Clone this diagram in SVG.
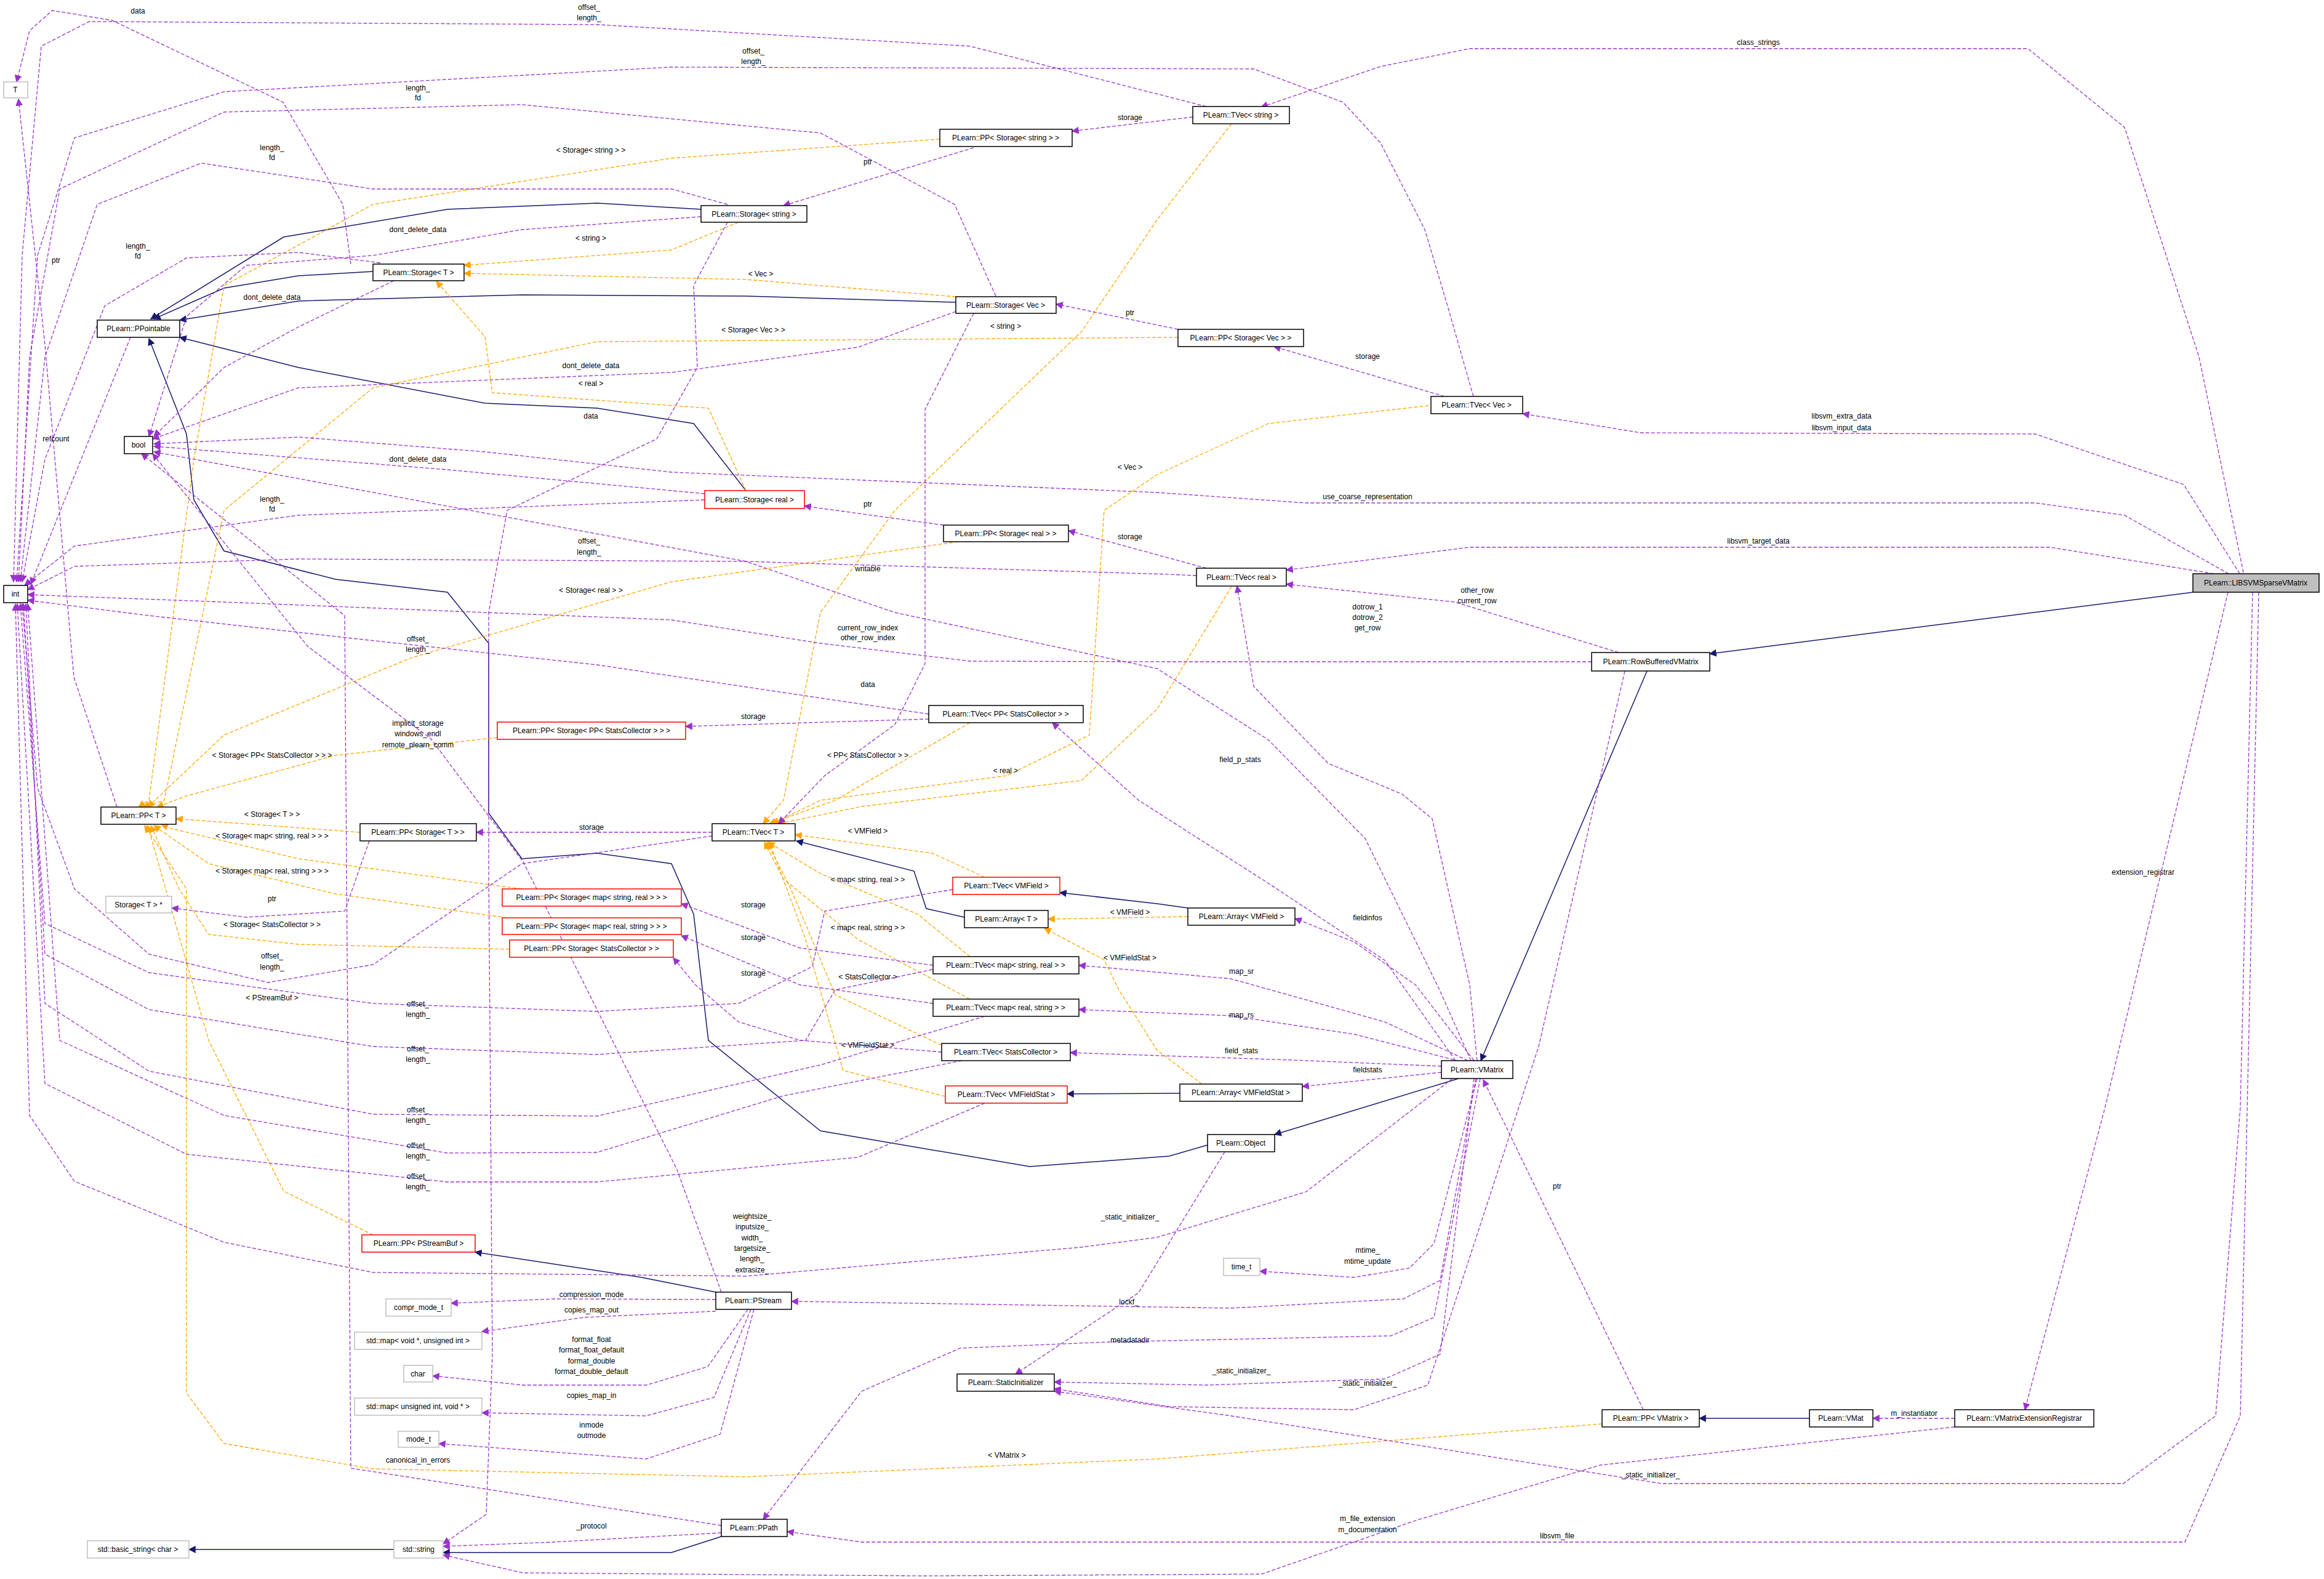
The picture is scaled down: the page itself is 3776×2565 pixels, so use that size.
<svg xmlns="http://www.w3.org/2000/svg" width="3776" height="2565" viewBox="0 0 3776 2565">
<style>
text{font-family:"Liberation Sans",Arial,sans-serif;font-size:12px;fill:#000}
.nt{text-anchor:middle}
.lb{text-anchor:middle}
rect{fill:#fff;stroke:#000;stroke-width:1.5}
.r rect{stroke:#ff0000}
.g rect{stroke:#bfbfbf}
.u{fill:none;stroke:#9a32cd;stroke-width:1.3;stroke-dasharray:6,3;marker-end:url(#mu)}
.t{fill:none;stroke:#ffa500;stroke-width:1.3;stroke-dasharray:6,3;marker-end:url(#mt)}
.i{fill:none;stroke:#191970;stroke-width:1.5;marker-end:url(#mi)}
</style>
<defs>
<marker id="mu" viewBox="0 0 10 10" refX="9" refY="5" markerWidth="12" markerHeight="12" markerUnits="userSpaceOnUse" orient="auto"><path d="M0,0L10,5L0,10z" fill="#9a32cd"/></marker>
<marker id="mt" viewBox="0 0 10 10" refX="9" refY="5" markerWidth="12" markerHeight="12" markerUnits="userSpaceOnUse" orient="auto"><path d="M0,0L10,5L0,10z" fill="#ffa500"/></marker>
<marker id="mi" viewBox="0 0 10 10" refX="9" refY="5" markerWidth="12" markerHeight="12" markerUnits="userSpaceOnUse" orient="auto"><path d="M0,0L10,5L0,10z" fill="#191970"/></marker>
</defs>
<rect x="0" y="0" width="3776" height="2565" style="fill:#fff;stroke:none"/>
<g id="edges">
<path class="i" d="M1139,340 L970,330 L727,340 L461,385 L245,518"/>
<path class="i" d="M606,441 L485,448 L364,468 L250,518"/>
<path class="i" d="M1553,491 L1212,481 L848,479 L485,489 L292,520"/>
<path class="i" d="M1212,797 L1127,688 L970,663 L788,655 L485,597 L292,548"/>
<path class="i" d="M1962,1860 L1900,1878 L1673,1895 L1333,1837 L1151,1690 L1127,1485 L1091,1403 L970,1386 L848,1395 L794,1321 L794,1045 L727,962 L545,941 L364,895 L315,812 L303,705 L242,550"/>
<path class="i" d="M1930,1475 L1880,1468 L1722,1450"/>
<path class="i" d="M1567,1490 L1505,1476 L1485,1415 L1294,1366"/>
<path class="i" d="M1917,1776 L1734,1777"/>
<path class="i" d="M2370,1752 L2071,1843"/>
<path class="i" d="M2676,1090 L2406,1723"/>
<path class="i" d="M3563,962 L2778,1062"/>
<path class="i" d="M1163,2099 L1042,2075 L772,2034"/>
<path class="i" d="M1172,2496 L1091,2522 L720,2522"/>
<path class="i" d="M640,2517 L307,2517"/>
<path class="i" d="M2940,2304 L2761,2304"/>
<path class="t" d="M1527,226 L1091,257 L606,332 L364,464 L315,746 L242,1300 L225,1311"/>
<path class="t" d="M1200,361 L1091,406 L754,431"/>
<path class="t" d="M1553,482 L1212,454 L754,444"/>
<path class="t" d="M1212,797 L1151,663 L800,638 L788,547 L709,457"/>
<path class="t" d="M1914,548 L970,555 L606,630 L364,829 L267,1300 L232,1311"/>
<path class="t" d="M1557,880 L1091,945 L667,1069 L364,1194 L240,1311"/>
<path class="t" d="M808,1198 L545,1227 L303,1293 L255,1311"/>
<path class="t" d="M585,1352 L286,1330"/>
<path class="t" d="M848,1444 L485,1395 L279,1346 L262,1339"/>
<path class="t" d="M824,1491 L545,1452 L339,1403 L250,1341"/>
<path class="t" d="M828,1542 L485,1534 L339,1518 L291,1444 L245,1341"/>
<path class="t" d="M606,2006 L461,1935 L339,1690 L240,1341"/>
<path class="t" d="M2603,2313 L1880,2370 L1212,2399 L606,2386 L364,2345 L303,2263 L303,1444 L235,1341"/>
<path class="t" d="M2001,201 L1880,357 L1757,539 L1454,829 L1333,995 L1273,1300 L1240,1338"/>
<path class="t" d="M2321,659 L2061,688 L1880,771 L1794,829 L1770,1194 L1636,1260 L1333,1300 L1255,1338"/>
<path class="t" d="M2001,953 L1880,1152 L1757,1268 L1400,1310 L1265,1338"/>
<path class="t" d="M1576,1174 L1454,1244 L1357,1300 L1250,1338"/>
<path class="t" d="M1600,1425 L1515,1386 L1292,1356"/>
<path class="t" d="M1576,1554 L1491,1485 L1333,1419 L1248,1368"/>
<path class="t" d="M1576,1623 L1394,1526 L1273,1428 L1242,1368"/>
<path class="t" d="M1530,1698 L1357,1616 L1285,1444 L1246,1368"/>
<path class="t" d="M1536,1781 L1370,1739 L1309,1526 L1250,1368"/>
<path class="t" d="M1930,1489 L1703,1493"/>
<path class="t" d="M1953,1761 L1880,1706 L1818,1608 L1794,1559 L1697,1508"/>
<path class="u" d="M570,429 L557,332 L460,166 L182,33 L85,17 L48,50 L27,133"/>
<path class="u" d="M1960,173 L1576,75 L970,40 L145,35 L67,75 L36,415 L22,945"/>
<path class="u" d="M2394,644 L2352,497 L2315,373 L2243,232 L2182,166 L2037,112 L1091,109 L364,149 L121,224 L61,415 L27,945"/>
<path class="u" d="M1618,481 L1551,332 L1333,216 L848,170 L364,182 L97,307 L48,580 L30,945"/>
<path class="u" d="M1182,332 L1091,307 L606,307 L327,265 L158,332 L73,580 L33,945"/>
<path class="u" d="M618,427 L485,410 L303,419 L170,497 L73,746 L36,945"/>
<path class="u" d="M1139,352 L848,373 L606,415 L400,431 L303,514 L242,709"/>
<path class="u" d="M640,456 L485,531 L364,597 L250,709"/>
<path class="u" d="M1553,506 L1394,564 L1091,605 L485,630 L248,713"/>
<path class="u" d="M1145,802 L727,763 L250,725"/>
<path class="u" d="M1145,812 L485,837 L121,887 L40,951"/>
<path class="u" d="M1582,240 L1273,334"/>
<path class="u" d="M1938,190 L1742,213"/>
<path class="u" d="M1914,535 L1716,494"/>
<path class="u" d="M2347,644 L2070,563"/>
<path class="u" d="M1533,853 L1307,822"/>
<path class="u" d="M1960,923 L1736,862"/>
<path class="u" d="M1944,935 L1900,933 L1212,912 L485,908 L121,920 L45,958"/>
<path class="u" d="M2586,1075 L1900,1075 L1576,1074 L1333,1045 L1091,1007 L364,978 L45,966"/>
<path class="u" d="M1509,1168 L1114,1180"/>
<path class="u" d="M1509,1160 L970,1080 L600,1040 L242,1000 L45,975"/>
<path class="u" d="M1582,509 L1503,665 L1503,1078 L1454,1177 L1340,1260 L1265,1338"/>
<path class="u" d="M1182,361 L1127,464 L1133,597 L1067,713 L824,829 L794,995 L794,1400 L800,2200 L790,2460 L720,2508"/>
<path class="u" d="M2365,1723 L2250,1560 L2061,1435 L1850,1300 L1710,1174"/>
<path class="u" d="M3645,930 L3573,580 L3452,207 L3295,79 L2388,79 L2243,108 L2049,174"/>
<path class="u" d="M3639,932 L3548,787 L3307,705 L2666,703 L2474,672"/>
<path class="u" d="M3621,932 L3452,837 L3307,817 L2122,817 L1880,800 L1091,767 L788,734 L485,710 L250,721"/>
<path class="u" d="M3597,932 L3331,889 L2388,889 L2090,926"/>
<path class="u" d="M2630,1060 L2364,978 L2090,949"/>
<path class="u" d="M2400,1723 L2388,1600 L2327,1330 L2278,1290 L2158,1240 L2037,1115 L2010,952"/>
<path class="u" d="M2390,1723 L2339,1608 L2218,1362 L2061,1202 L1880,1086 L1454,995 L1212,912 L250,734"/>
<path class="u" d="M2395,1723 L2300,1600 L2200,1530 L2104,1492"/>
<path class="u" d="M2385,1723 L2250,1660 L2000,1590 L1753,1568"/>
<path class="u" d="M2380,1726 L2200,1680 L2000,1650 L1753,1640"/>
<path class="u" d="M2342,1732 L2100,1722 L1739,1710"/>
<path class="u" d="M2342,1742 L2116,1765"/>
<path class="u" d="M2360,1752 L2122,1936 L1880,2010 L1757,2026 L1212,2073 L606,2067 L364,2018 L121,1919 L48,1812 L25,981"/>
<path class="u" d="M2400,1752 L2330,2020 L2290,2060 L2200,2075 L2047,2065"/>
<path class="u" d="M2398,1752 L2340,2080 L2280,2110 L2000,2125 L1286,2114"/>
<path class="u" d="M2405,1752 L2330,2140 L2260,2170 L1800,2180 L1560,2190 L1400,2260 L1240,2468"/>
<path class="u" d="M2395,1752 L2340,2200 L2250,2240 L1960,2250 L1713,2245"/>
<path class="u" d="M1990,1871 L1850,2100 L1650,2232"/>
<path class="u" d="M2670,2290 L2410,1754"/>
<path class="u" d="M2640,1090 L2500,1700 L2320,2250 L2200,2290 L1900,2285 L1713,2256"/>
<path class="u" d="M3660,962 L3640,1800 L3600,2300 L3450,2410 L2700,2410 L2000,2300 L1713,2260"/>
<path class="u" d="M3176,2318 L2600,2380 L2300,2470 L2050,2557 L1500,2560 L850,2555 L720,2526"/>
<path class="u" d="M3670,962 L3640,2300 L3550,2505 L1400,2505 L1279,2488"/>
<path class="u" d="M3620,962 L3420,1800 L3290,2290"/>
<path class="u" d="M3176,2304 L3043,2304"/>
<path class="u" d="M1163,2111 L900,2110 L733,2117"/>
<path class="u" d="M1163,2130 L950,2140 L783,2163"/>
<path class="u" d="M1215,2127 L1150,2220 L1050,2250 L850,2250 L703,2235"/>
<path class="u" d="M1220,2127 L1160,2270 L1050,2300 L783,2295"/>
<path class="u" d="M1225,2127 L1170,2330 L1050,2370 L713,2345"/>
<path class="u" d="M1172,2099 L1100,1900 L1000,1700 L850,1400 L700,1200 L500,1050 L248,737"/>
<path class="u" d="M1172,2478 L570,2385 L563,1400 L560,1000 L230,737"/>
<path class="u" d="M1172,2490 L900,2505 L720,2512"/>
<path class="u" d="M600,1366 L560,1480 L400,1490 L279,1475"/>
<path class="u" d="M1157,1352 L774,1352"/>
<path class="u" d="M1157,1358 L848,1403 L727,1485 L606,1567 L436,1596 L242,1550 L121,1444 L61,1280 L36,981"/>
<path class="u" d="M1516,1568 L1300,1540 L1107,1468"/>
<path class="u" d="M1516,1630 L1300,1600 L1107,1520"/>
<path class="u" d="M1530,1709 L1300,1690 L1200,1660 L1130,1600 L1094,1556"/>
<path class="u" d="M1548,1445 L1340,1480 L1320,1570 L1200,1630 L970,1643 L606,1630 L242,1580 L73,1500 L33,981"/>
<path class="u" d="M1515,1575 L1357,1608 L1309,1690 L970,1713 L606,1700 L242,1640 L73,1550 L38,981"/>
<path class="u" d="M1600,1651 L1333,1730 L970,1813 L606,1810 L242,1740 L73,1630 L42,981"/>
<path class="u" d="M1563,1723 L1273,1780 L970,1872 L727,1873 L364,1812 L97,1690 L45,981"/>
<path class="u" d="M1600,1792 L1394,1880 L970,1920 L727,1920 L303,1875 L73,1760 L28,981"/>
<path class="u" d="M190,1311 L120,1100 L73,560 L30,161"/>
<path class="u" d="M212,548 L110,800 L50,949"/>
</g>
<g id="labels">
<text class="lb" x="224" y="22">data</text>
<text class="lb" x="957" y="16">offset_</text><text class="lb" x="957" y="33">length_</text>
<text class="lb" x="1224" y="87">offset_</text><text class="lb" x="1224" y="104">length_</text>
<text class="lb" x="679" y="147">length_</text><text class="lb" x="679" y="163">fd</text>
<text class="lb" x="442" y="244">length_</text><text class="lb" x="442" y="260">fd</text>
<text class="lb" x="224" y="404">length_</text><text class="lb" x="224" y="420">fd</text>
<text class="lb" x="679" y="377">dont_delete_data</text>
<text class="lb" x="442" y="487">dont_delete_data</text>
<text class="lb" x="960" y="598">dont_delete_data</text>
<text class="lb" x="679" y="750">dont_delete_data</text>
<text class="lb" x="442" y="815">length_</text><text class="lb" x="442" y="831">fd</text>
<text class="lb" x="960" y="680">data</text>
<text class="lb" x="1410" y="267">ptr</text>
<text class="lb" x="1836" y="195">storage</text>
<text class="lb" x="1836" y="512">ptr</text>
<text class="lb" x="2222" y="583">storage</text>
<text class="lb" x="1410" y="823">ptr</text>
<text class="lb" x="1836" y="876">storage</text>
<text class="lb" x="957" y="883">offset_</text><text class="lb" x="957" y="901">length_</text>
<text class="lb" x="1410" y="1024">current_row_index</text><text class="lb" x="1410" y="1040">other_row_index</text>
<text class="lb" x="1410" y="1116">data</text>
<text class="lb" x="679" y="1042">offset_</text><text class="lb" x="679" y="1059">length_</text>
<text class="lb" x="1224" y="1168">storage</text>
<text class="lb" x="2015" y="1238">field_p_stats</text>
<text class="lb" x="2857" y="73">class_strings</text>
<text class="lb" x="2992" y="680">libsvm_extra_data</text><text class="lb" x="2992" y="699">libsvm_input_data</text>
<text class="lb" x="2222" y="811">use_coarse_representation</text>
<text class="lb" x="2857" y="883">libsvm_target_data</text>
<text class="lb" x="2400" y="963">other_row</text><text class="lb" x="2400" y="980">current_row</text>
<text class="lb" x="2222" y="990">dotrow_1</text><text class="lb" x="2222" y="1007">dotrow_2</text><text class="lb" x="2222" y="1024">get_row</text>
<text class="lb" x="1410" y="928">writable</text>
<text class="lb" x="2222" y="1495">fieldinfos</text>
<text class="lb" x="2017" y="1582">map_sr</text>
<text class="lb" x="2017" y="1653">map_rs</text>
<text class="lb" x="2017" y="1711">field_stats</text>
<text class="lb" x="2222" y="1742">fieldstats</text>
<text class="lb" x="1222" y="1980">weightsize_</text><text class="lb" x="1222" y="1997">inputsize_</text><text class="lb" x="1222" y="2015">width_</text><text class="lb" x="1222" y="2032">targetsize_</text><text class="lb" x="1222" y="2049">length_</text><text class="lb" x="1222" y="2067">extrasize_</text>
<text class="lb" x="2222" y="2035">mtime_</text><text class="lb" x="2222" y="2053">mtime_update</text>
<text class="lb" x="1834" y="2119">lockf_</text>
<text class="lb" x="1836" y="2181">metadatadir</text>
<text class="lb" x="2017" y="2231">_static_initializer_</text>
<text class="lb" x="1836" y="1981">_static_initializer_</text>
<text class="lb" x="2530" y="1931">ptr</text>
<text class="lb" x="2222" y="2251">_static_initializer_</text>
<text class="lb" x="2682" y="2400">_static_initializer_</text>
<text class="lb" x="2222" y="2471">m_file_extension</text><text class="lb" x="2222" y="2489">m_documentation</text>
<text class="lb" x="2530" y="2499">libsvm_file</text>
<text class="lb" x="3482" y="1421">extension_registrar</text>
<text class="lb" x="3110" y="2300">m_instantiator</text>
<text class="lb" x="961" y="2107">compression_mode</text>
<text class="lb" x="961" y="2132">copies_map_out</text>
<text class="lb" x="961" y="2180">format_float</text><text class="lb" x="961" y="2197">format_float_default</text><text class="lb" x="961" y="2215">format_double</text><text class="lb" x="961" y="2232">format_double_default</text>
<text class="lb" x="961" y="2271">copies_map_in</text>
<text class="lb" x="961" y="2319">inmode</text><text class="lb" x="961" y="2336">outmode</text>
<text class="lb" x="679" y="2376">canonical_in_errors</text>
<text class="lb" x="961" y="2483">_protocol</text>
<text class="lb" x="442" y="1464">ptr</text>
<text class="lb" x="961" y="1348">storage</text>
<text class="lb" x="442" y="1557">offset_</text><text class="lb" x="442" y="1575">length_</text>
<text class="lb" x="1224" y="1474">storage</text>
<text class="lb" x="1224" y="1527">storage</text>
<text class="lb" x="1224" y="1585">storage</text>
<text class="lb" x="679" y="1635">offset_</text><text class="lb" x="679" y="1652">length_</text>
<text class="lb" x="679" y="1708">offset_</text><text class="lb" x="679" y="1725">length_</text>
<text class="lb" x="679" y="1807">offset_</text><text class="lb" x="679" y="1824">length_</text>
<text class="lb" x="679" y="1865">offset_</text><text class="lb" x="679" y="1882">length_</text>
<text class="lb" x="679" y="1915">offset_</text><text class="lb" x="679" y="1932">length_</text>
<text class="lb" x="91" y="427">ptr</text>
<text class="lb" x="91" y="717">refcount</text>
<text class="lb" x="960" y="248">&lt; Storage&lt; string &gt; &gt;</text>
<text class="lb" x="960" y="391">&lt; string &gt;</text>
<text class="lb" x="1236" y="449">&lt; Vec &gt;</text>
<text class="lb" x="960" y="627">&lt; real &gt;</text>
<text class="lb" x="1224" y="540">&lt; Storage&lt; Vec &gt; &gt;</text>
<text class="lb" x="1634" y="534">&lt; string &gt;</text>
<text class="lb" x="1836" y="763">&lt; Vec &gt;</text>
<text class="lb" x="960" y="963">&lt; Storage&lt; real &gt; &gt;</text>
<text class="lb" x="679" y="1179">implicit_storage</text><text class="lb" x="679" y="1196">windows_endl</text><text class="lb" x="679" y="1214">remote_plearn_comm</text>
<text class="lb" x="442" y="1231">&lt; Storage&lt; PP&lt; StatsCollector &gt; &gt; &gt;</text>
<text class="lb" x="1410" y="1231">&lt; PP&lt; StatsCollector &gt; &gt;</text>
<text class="lb" x="1634" y="1256">&lt; real &gt;</text>
<text class="lb" x="442" y="1327">&lt; Storage&lt; T &gt; &gt;</text>
<text class="lb" x="442" y="1362">&lt; Storage&lt; map&lt; string, real &gt; &gt; &gt;</text>
<text class="lb" x="442" y="1419">&lt; Storage&lt; map&lt; real, string &gt; &gt; &gt;</text>
<text class="lb" x="442" y="1506">&lt; Storage&lt; StatsCollector &gt; &gt;</text>
<text class="lb" x="442" y="1625">&lt; PStreamBuf &gt;</text>
<text class="lb" x="1410" y="1354">&lt; VMField &gt;</text>
<text class="lb" x="1410" y="1433">&lt; map&lt; string, real &gt; &gt;</text>
<text class="lb" x="1410" y="1511">&lt; map&lt; real, string &gt; &gt;</text>
<text class="lb" x="1410" y="1591">&lt; StatsCollector &gt;</text>
<text class="lb" x="1410" y="1702">&lt; VMFieldStat &gt;</text>
<text class="lb" x="1836" y="1486">&lt; VMField &gt;</text>
<text class="lb" x="1836" y="1560">&lt; VMFieldStat &gt;</text>
<text class="lb" x="1636" y="2368">&lt; VMatrix &gt;</text>
</g>
<g id="T" class="g"><rect x="6" y="133" width="39" height="26"/><text class="nt" x="25" y="150">T</text></g>
<g id="ppss"><rect x="1527" y="210" width="215" height="28"/><text class="nt" x="1634" y="228">PLearn::PP&lt; Storage&lt; string &gt; &gt;</text></g>
<g id="ss"><rect x="1139" y="334" width="172" height="27"/><text class="nt" x="1225" y="352">PLearn::Storage&lt; string &gt;</text></g>
<g id="st"><rect x="606" y="429" width="148" height="27"/><text class="nt" x="680" y="447">PLearn::Storage&lt; T &gt;</text></g>
<g id="sv"><rect x="1553" y="482" width="163" height="27"/><text class="nt" x="1634" y="500">PLearn::Storage&lt; Vec &gt;</text></g>
<g id="ppointable"><rect x="158" y="520" width="134" height="28"/><text class="nt" x="225" y="538">PLearn::PPointable</text></g>
<g id="bool"><rect x="202" y="709" width="46" height="28"/><text class="nt" x="225" y="727">bool</text></g>
<g id="sr" class="r"><rect x="1145" y="797" width="162" height="29"/><text class="nt" x="1226" y="816">PLearn::Storage&lt; real &gt;</text></g>
<g id="ppsr"><rect x="1533" y="853" width="203" height="27"/><text class="nt" x="1634" y="871">PLearn::PP&lt; Storage&lt; real &gt; &gt;</text></g>
<g id="int"><rect x="6" y="951" width="39" height="28"/><text class="nt" x="25" y="969">int</text></g>
<g id="tvpsc"><rect x="1509" y="1146" width="251" height="28"/><text class="nt" x="1634" y="1164">PLearn::TVec&lt; PP&lt; StatsCollector &gt; &gt;</text></g>
<g id="ppspsc" class="r"><rect x="808" y="1173" width="306" height="28"/><text class="nt" x="961" y="1191">PLearn::PP&lt; Storage&lt; PP&lt; StatsCollector &gt; &gt; &gt;</text></g>
<g id="tvs"><rect x="1938" y="173" width="157" height="28"/><text class="nt" x="2016" y="191">PLearn::TVec&lt; string &gt;</text></g>
<g id="ppsv"><rect x="1914" y="535" width="204" height="28"/><text class="nt" x="2016" y="553">PLearn::PP&lt; Storage&lt; Vec &gt; &gt;</text></g>
<g id="tvv"><rect x="2325" y="644" width="149" height="28"/><text class="nt" x="2399" y="662">PLearn::TVec&lt; Vec &gt;</text></g>
<g id="tvr"><rect x="1944" y="923" width="146" height="29"/><text class="nt" x="2017" y="942">PLearn::TVec&lt; real &gt;</text></g>
<g id="libsvm"><rect x="3563" y="932" width="205" height="30" style="fill:#bfbfbf"/><text class="nt" x="3665" y="951">PLearn::LIBSVMSparseVMatrix</text></g>
<g id="rbv"><rect x="2586" y="1060" width="192" height="30"/><text class="nt" x="2682" y="1079">PLearn::RowBufferedVMatrix</text></g>
<g id="ppT"><rect x="164" y="1311" width="122" height="28"/><text class="nt" x="225" y="1329">PLearn::PP&lt; T &gt;</text></g>
<g id="ppst"><rect x="585" y="1338" width="189" height="28"/><text class="nt" x="679" y="1356">PLearn::PP&lt; Storage&lt; T &gt; &gt;</text></g>
<g id="tvt"><rect x="1157" y="1338" width="135" height="28"/><text class="nt" x="1224" y="1356">PLearn::TVec&lt; T &gt;</text></g>
<g id="tvvmf" class="r"><rect x="1548" y="1425" width="174" height="28"/><text class="nt" x="1635" y="1443">PLearn::TVec&lt; VMField &gt;</text></g>
<g id="stp" class="g"><rect x="172" y="1456" width="107" height="27"/><text class="nt" x="225" y="1474">Storage&lt; T &gt; *</text></g>
<g id="ppssr" class="r"><rect x="816" y="1444" width="291" height="28"/><text class="nt" x="961" y="1462">PLearn::PP&lt; Storage&lt; map&lt; string, real &gt; &gt; &gt;</text></g>
<g id="arrt"><rect x="1567" y="1479" width="136" height="28"/><text class="nt" x="1635" y="1497">PLearn::Array&lt; T &gt;</text></g>
<g id="ppsrs" class="r"><rect x="816" y="1491" width="291" height="27"/><text class="nt" x="961" y="1509">PLearn::PP&lt; Storage&lt; map&lt; real, string &gt; &gt; &gt;</text></g>
<g id="ppssc" class="r"><rect x="828" y="1527" width="266" height="28"/><text class="nt" x="961" y="1545">PLearn::PP&lt; Storage&lt; StatsCollector &gt; &gt;</text></g>
<g id="tvmsr"><rect x="1516" y="1554" width="237" height="28"/><text class="nt" x="1634" y="1572">PLearn::TVec&lt; map&lt; string, real &gt; &gt;</text></g>
<g id="tvmrs"><rect x="1516" y="1623" width="237" height="28"/><text class="nt" x="1634" y="1641">PLearn::TVec&lt; map&lt; real, string &gt; &gt;</text></g>
<g id="tvsc"><rect x="1530" y="1695" width="209" height="28"/><text class="nt" x="1634" y="1713">PLearn::TVec&lt; StatsCollector &gt;</text></g>
<g id="tvvmfs" class="r"><rect x="1536" y="1764" width="198" height="28"/><text class="nt" x="1635" y="1782">PLearn::TVec&lt; VMFieldStat &gt;</text></g>
<g id="pppsb" class="r"><rect x="588" y="2006" width="184" height="28"/><text class="nt" x="680" y="2024">PLearn::PP&lt; PStreamBuf &gt;</text></g>
<g id="pstream"><rect x="1163" y="2099" width="123" height="28"/><text class="nt" x="1224" y="2117">PLearn::PStream</text></g>
<g id="cmt" class="g"><rect x="627" y="2110" width="106" height="28"/><text class="nt" x="680" y="2128">compr_mode_t</text></g>
<g id="mvu" class="g"><rect x="576" y="2164" width="207" height="28"/><text class="nt" x="679" y="2182">std::map&lt; void *, unsigned int &gt;</text></g>
<g id="char" class="g"><rect x="656" y="2218" width="47" height="27"/><text class="nt" x="679" y="2236">char</text></g>
<g id="muv" class="g"><rect x="576" y="2271" width="207" height="28"/><text class="nt" x="679" y="2289">std::map&lt; unsigned int, void * &gt;</text></g>
<g id="modet" class="g"><rect x="647" y="2325" width="66" height="26"/><text class="nt" x="680" y="2342">mode_t</text></g>
<g id="ppath"><rect x="1172" y="2468" width="107" height="28"/><text class="nt" x="1225" y="2486">PLearn::PPath</text></g>
<g id="stdstr" class="g"><rect x="640" y="2503" width="80" height="28"/><text class="nt" x="680" y="2521">std::string</text></g>
<g id="bstr" class="g"><rect x="142" y="2503" width="165" height="28"/><text class="nt" x="224" y="2521">std::basic_string&lt; char &gt;</text></g>
<g id="sinit"><rect x="1555" y="2232" width="158" height="28"/><text class="nt" x="1634" y="2250">PLearn::StaticInitializer</text></g>
<g id="arrvmf"><rect x="1930" y="1475" width="174" height="28"/><text class="nt" x="2017" y="1493">PLearn::Array&lt; VMField &gt;</text></g>
<g id="vmatrix"><rect x="2342" y="1723" width="116" height="29"/><text class="nt" x="2400" y="1742">PLearn::VMatrix</text></g>
<g id="arrvmfs"><rect x="1917" y="1761" width="199" height="28"/><text class="nt" x="2016" y="1779">PLearn::Array&lt; VMFieldStat &gt;</text></g>
<g id="object"><rect x="1962" y="1843" width="109" height="28"/><text class="nt" x="2016" y="1861">PLearn::Object</text></g>
<g id="timet" class="g"><rect x="1988" y="2044" width="59" height="28"/><text class="nt" x="2017" y="2062">time_t</text></g>
<g id="ppvm"><rect x="2603" y="2290" width="158" height="28"/><text class="nt" x="2682" y="2308">PLearn::PP&lt; VMatrix &gt;</text></g>
<g id="vmat"><rect x="2940" y="2290" width="103" height="28"/><text class="nt" x="2991" y="2308">PLearn::VMat</text></g>
<g id="vmer"><rect x="3176" y="2290" width="226" height="28"/><text class="nt" x="3289" y="2308">PLearn::VMatrixExtensionRegistrar</text></g>
</svg>
